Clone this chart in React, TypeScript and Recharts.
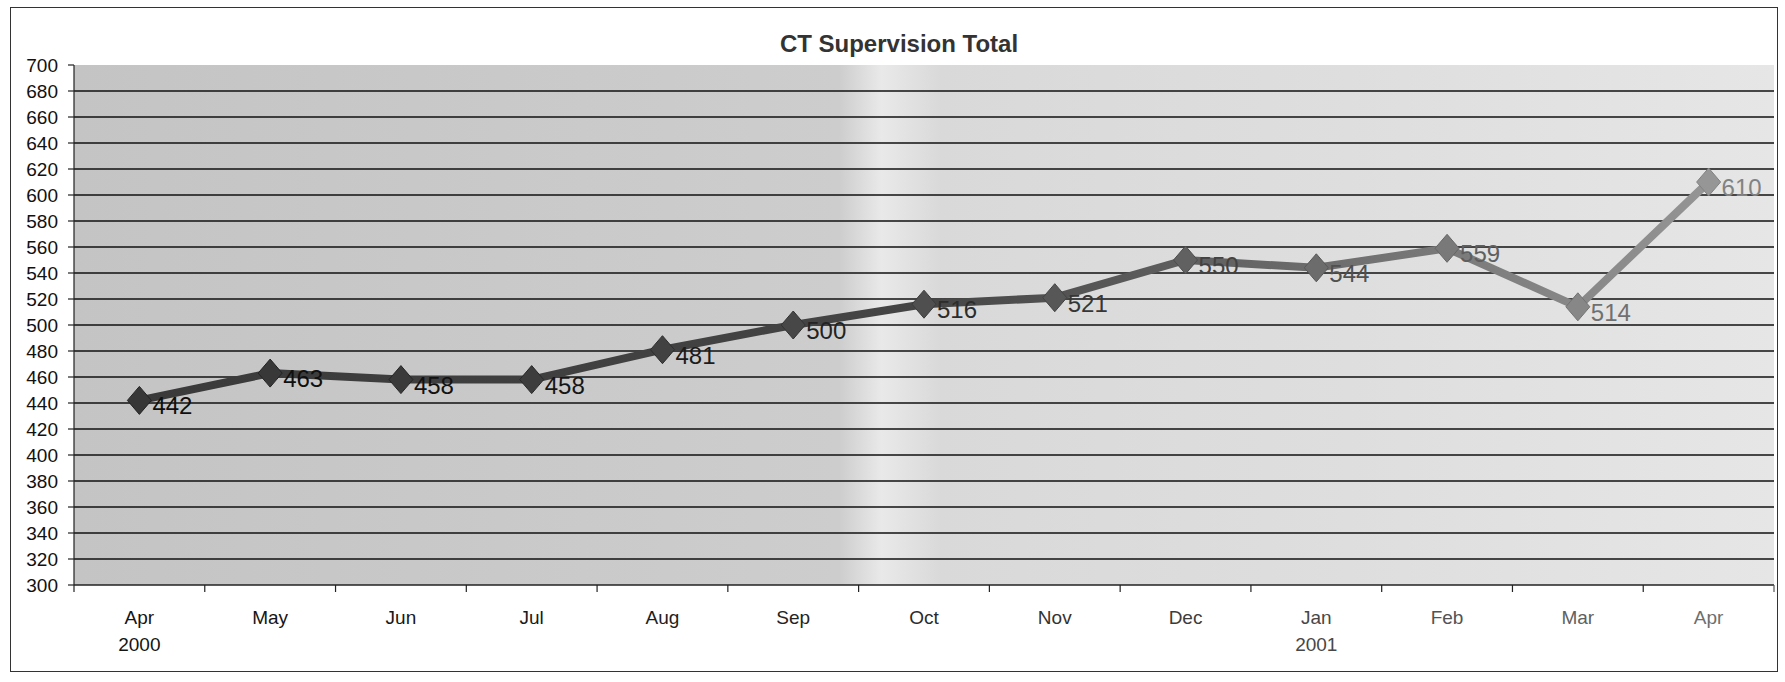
import React from "react"
import {
  CartesianGrid,
  ComposedChart,
  LabelList,
  Line,
  XAxis,
  YAxis,
} from "recharts"

const months = ["Apr", "May", "Jun", "Jul", "Aug", "Sep", "Oct", "Nov", "Dec", "Jan", "Feb", "Mar", "Apr"]
const years = ["2000", "", "", "", "", "", "", "", "", "2001", "", "", ""]
const totals = [442, 463, 458, 458, 481, 500, 516, 521, 550, 544, 559, 514, 610]
const yTicks = [300, 320, 340, 360, 380, 400, 420, 440, 460, 480, 500, 520, 540, 560, 580, 600, 620, 640, 660, 680, 700]
const gridValues = yTicks.filter((v) => v !== 300 && v !== 700)

const data = months.map((m, i) => ({ period: `${m} ${years[i] || i}`, total: totals[i] }))

const FONT = '"Liberation Sans", Arial, sans-serif'

// the scan fades from dark on the left to light grey on the right
function shade(i: number, from: number, to: number) {
  const t = i / (months.length - 1)
  const v = Math.round(from + (to - from) * t * t)
  return `rgb(${v},${v},${v})`
}

function MonthTick(props: any) {
  const { x, y, payload } = props
  const i = payload.index
  const half = payload.offset || 65.5
  const col = shade(i, 20, 110)
  return (
    <g>
      <line x1={x - half} y1={y} x2={x - half} y2={y + 7} stroke="#222" strokeWidth={1.2} />
      {i === months.length - 1 && (
        <line x1={x + half} y1={y} x2={x + half} y2={y + 7} stroke="#555" strokeWidth={1.2} />
      )}
      <text x={x} y={y + 39} textAnchor="middle" fontSize={19} fontFamily={FONT} fill={col}>
        {months[i]}
      </text>
      {years[i] && (
        <text x={x} y={y + 66} textAnchor="middle" fontSize={19} fontFamily={FONT} fill={col}>
          {years[i]}
        </text>
      )}
    </g>
  )
}

function Diamond(props: any) {
  const { cx, cy, index } = props
  if (cx == null || cy == null) return null
  const w = 12
  const h = 14
  return (
    <path
      d={`M${cx},${cy - h} L${cx + w},${cy} L${cx},${cy + h} L${cx - w},${cy} Z`}
      fill={shade(index, 55, 150)}
      stroke={shade(index, 35, 130)}
      strokeWidth={1}
    />
  )
}

function ValueLabel(props: any) {
  const { x, y, value, index } = props
  return (
    <text
      x={x + 13}
      y={y + 14}
      fontSize={24}
      fontFamily={FONT}
      fill={shade(index, 15, 130)}
    >
      {value}
    </text>
  )
}

export default function App() {
  return (
    <div
      style={{
        position: "absolute",
        left: 10,
        top: 7,
        width: 1766,
        height: 663,
        border: "1px solid #333",
        background: "#fff",
      }}
    >
      <div
        style={{
          position: "absolute",
          left: 588,
          top: 22,
          width: 600,
          textAlign: "center",
          fontFamily: FONT,
          fontWeight: "bold",
          fontSize: 24,
          color: "#333",
        }}
      >
        CT Supervision Total
      </div>
      <ComposedChart
        width={1766}
        height={663}
        data={data}
        margin={{ top: 57, right: 3, bottom: 26, left: 0 }}
      >
        <defs>
          <linearGradient id="plotBg" x1="0" y1="0" x2="1" y2="0">
            <stop offset="0" stopColor="#c4c4c4" />
            <stop offset="0.45" stopColor="#cdcdcd" />
            <stop offset="0.475" stopColor="#e9e9e9" />
            <stop offset="0.51" stopColor="#d9d9d9" />
            <stop offset="0.75" stopColor="#dedede" />
            <stop offset="1" stopColor="#e6e6e6" />
          </linearGradient>
          <linearGradient id="lineFade" x1="0" y1="0" x2="1" y2="0">
            <stop offset="0" stopColor="#3a3a3a" />
            <stop offset="0.5" stopColor="#454545" />
            <stop offset="0.75" stopColor="#6c6c6c" />
            <stop offset="1" stopColor="#959595" />
          </linearGradient>
        </defs>
        <CartesianGrid
          vertical={false}
          horizontalValues={gridValues}
          stroke="#111"
          strokeWidth={1.6}
          fill="url(#plotBg)"
          fillOpacity={1}
        />
        <XAxis
          dataKey="period"
          scale="band"
          height={60}
          interval={0}
          tickSize={0}
          tickMargin={0}
          tickLine={false}
          axisLine={{ stroke: "#222", strokeWidth: 1.6 }}
          tick={<MonthTick />}
        />
        <YAxis
          width={63}
          domain={[300, 700]}
          ticks={yTicks}
          interval={0}
          allowDataOverflow
          tickSize={6}
          tickMargin={10}
          tickLine={{ stroke: "#222", strokeWidth: 1.2 }}
          axisLine={{ stroke: "#222", strokeWidth: 1.2 }}
          tick={{ fontSize: 19, fontFamily: FONT, fill: "#111" }}
        />
        <Line
          type="linear"
          dataKey="total"
          stroke="url(#lineFade)"
          strokeWidth={8}
          dot={<Diamond />}
          activeDot={false}
          isAnimationActive={false}
        >
          <LabelList dataKey="total" content={<ValueLabel />} />
        </Line>
      </ComposedChart>
    </div>
  )
}
